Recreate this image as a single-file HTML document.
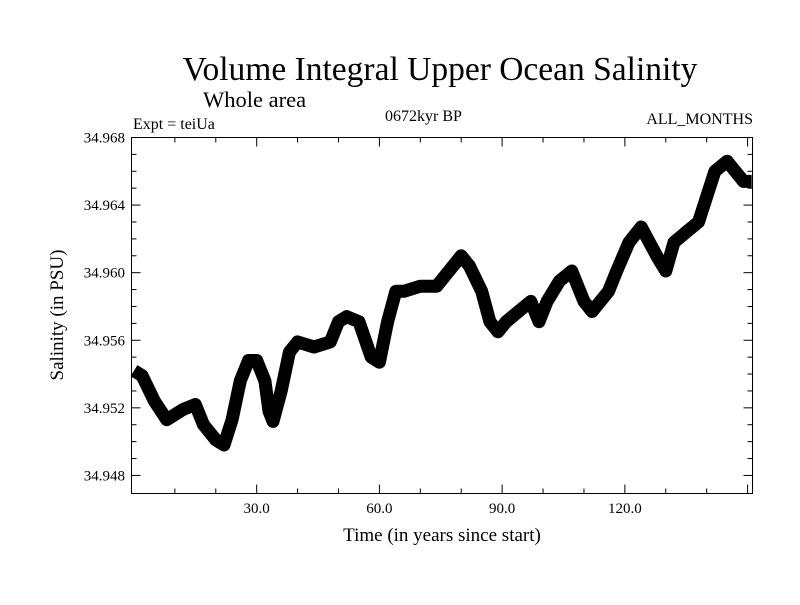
<!DOCTYPE html>
<html><head><meta charset="utf-8"><style>
body{margin:0;background:#fff;}
svg text{font-family:"Liberation Serif",serif;fill:#000;}
</style></head><body>
<svg id="chart" width="800" height="600">
<text x="440" y="80" font-size="33.5" text-anchor="middle">Volume Integral Upper Ocean Salinity</text>
<text x="203" y="107" font-size="22.5">Whole area</text>
<text x="133" y="129" font-size="16">Expt = teiUa</text>
<text x="385" y="121" font-size="16">0672kyr BP</text>
<text x="753" y="124" font-size="16" text-anchor="end">ALL_MONTHS</text>
<text x="442" y="541" font-size="19" text-anchor="middle">Time (in years since start)</text>
<text transform="translate(63,315) rotate(-90)" font-size="19" text-anchor="middle">Salinity (in PSU)</text>
<rect x="131.5" y="137.5" width="621" height="356" fill="none" stroke="#000" stroke-width="1"/>
<g id="ticks"></g>
<g id="series"></g>
</svg>
<script>
const years=[0,2,5,8,12,15,17,20,22,24,26,28,30,32,33,34,36,38,40,44,48,50,52,55,58,60,62,64,66,70,74,77,80,82,85,87,89,91,94,97,99,101,104,107,110,112,114,116,118,121,124,126,128,130,132,135,138,140,142,145,147,149,151];
const salinity=[34.9542,34.9539,34.9524,34.9513,34.9519,34.9522,34.9510,34.9501,34.9498,34.9513,34.9536,34.9548,34.9548,34.9536,34.9518,34.9512,34.9530,34.9553,34.9559,34.9556,34.9559,34.9571,34.9574,34.9571,34.9550,34.9547,34.9571,34.9589,34.9589,34.9592,34.9592,34.9601,34.9610,34.9604,34.9589,34.9571,34.9565,34.9571,34.9577,34.9583,34.9571,34.9583,34.9595,34.9601,34.9583,34.9577,34.9583,34.9589,34.9601,34.9618,34.9627,34.9618,34.9609,34.9601,34.9618,34.9624,34.9630,34.9645,34.9660,34.9666,34.9660,34.9654,34.9654];
const xTicks=[30,60,90,120];
const xTickLabels=["30.0","60.0","90.0","120.0"];
const yTicks=[34.948,34.952,34.956,34.960,34.964,34.968];
const yTickLabels=["34.948","34.952","34.956","34.960","34.964","34.968"];
const X0=131.5,X1=752.5,Y0=137.5,Y1=493.5;
const xMin=-0.6,xMax=151.2,yMin=34.94693,yMax=34.968;
const sx=v=>X0+(v-xMin)/(xMax-xMin)*(X1-X0);
const sy=v=>Y1-(v-yMin)/(yMax-yMin)*(Y1-Y0);
const NS="http://www.w3.org/2000/svg";
const tg=document.getElementById('ticks');
function mk(t,a){const e=document.createElementNS(NS,t);for(const k in a)e.setAttribute(k,a[k]);return e;}
for(let v=10;v<xMax;v+=10){
 const x=sx(v);const L=(v%30===0)?9:5;
 const a=mk('line',{x1:x,x2:x,y1:Y1,y2:Y1-L,stroke:'#000'});
 
 tg.appendChild(a);
 const b=mk('line',{x1:x,x2:x,y1:Y0,y2:Y0+L,stroke:'#000'});
 
 tg.appendChild(b);
}
xTicks.forEach((v,i)=>{const t=mk('text',{x:sx(v),y:513,'font-size':15,'text-anchor':'middle'});t.textContent=xTickLabels[i];
 
 tg.appendChild(t);});
for(let k=0;k<=20;k++){
 const v=34.948+k*0.001;const y=sy(v);const L=(k%4===0)?9:5;
 const a=mk('line',{x1:X0,x2:X0+L,y1:y,y2:y,stroke:'#000'});
 
 tg.appendChild(a);
 const b=mk('line',{x1:X1,x2:X1-L,y1:y,y2:y,stroke:'#000'});
 
 tg.appendChild(b);
}
yTicks.forEach((v,i)=>{const t=mk('text',{x:125,y:sy(v)+5,'font-size':15,'text-anchor':'end'});t.textContent=yTickLabels[i];
 
 tg.appendChild(t);});
let d='';years.forEach((v,i)=>{d+=(i?'L':'M')+sx(v).toFixed(1)+','+sy(salinity[i]).toFixed(1);});
const p=mk('path',{d:d,fill:'none',stroke:'#000','stroke-width':13,'stroke-linejoin':'round','stroke-linecap':'butt'});


document.getElementById('series').appendChild(p);
</script>
</body></html>
